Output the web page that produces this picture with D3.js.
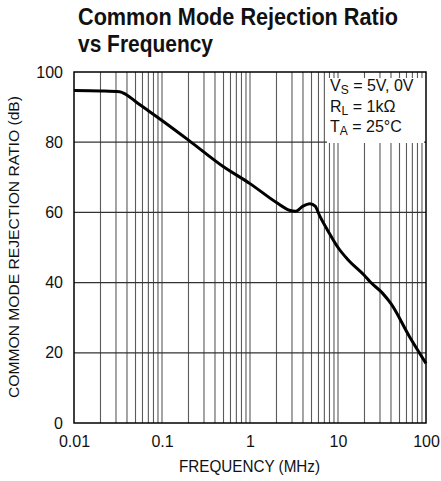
<!DOCTYPE html>
<html lang="en">
<head>
<meta charset="UTF-8">
<title>CMRR vs Frequency</title>
<script src="https://cdn.jsdelivr.net/npm/d3@7"></script>
<style>
  body { margin: 0; background: #fff; }
  text { font-family: "Liberation Sans", Arial, sans-serif; fill: #111; }
</style>
</head>
<body>
<script>
// data (MHz, dB)
var freq = [0.01, 0.02, 0.033, 0.039, 0.05, 0.1, 0.2, 0.5, 1, 2, 2.8, 3.3, 4, 4.8, 5.5, 6.2, 8, 10, 13, 20, 23, 32, 40, 65, 100];
var cmrr = [94.7, 94.6, 94.4, 93.6, 91.6, 86.2, 80.6, 73.0, 68.2, 62.8, 60.6, 60.3, 61.8, 62.5, 61.8, 59, 54, 50, 46.5, 42, 40.3, 37, 34, 24.6, 17];
var xTicks = [0.01, 0.1, 1, 10, 100];
var xTickLabels = ["0.01", "0.1", "1", "10", "100"];
var yTicks = [0, 20, 40, 60, 80, 100];
var notes = [["V", "S", " = 5V, 0V"], ["R", "L", " = 1k\u03A9"], ["T", "A", " = 25\u00B0C"]];

var width = 441, height = 481;
var plot = {left: 74, right: 426, top: 72, bottom: 423};

var svg = d3.select("body").append("svg").attr("width", width).attr("height", height);

var x = d3.scaleLog().domain([0.01, 100]).range([plot.left, plot.right]);
var y = d3.scaleLinear().domain([0, 100]).range([plot.bottom, plot.top]);

// vertical grid: every 1..9 in each decade
var gridX = [];
for (var d = -2; d < 2; d++) {
  for (var k = 1; k <= 9; k++) gridX.push(k * Math.pow(10, d));
}
svg.append("g").selectAll("line").data(gridX.filter(function (v) { return v > 0.01; }))
  .enter().append("line")
  .attr("x1", function (v) { return x(v); }).attr("x2", function (v) { return x(v); })
  .attr("y1", plot.top).attr("y2", plot.bottom)
  .attr("stroke", "#5a5a5a").attr("stroke-width", 1.1);

svg.append("g").selectAll("line").data([20, 40, 60, 80])
  .enter().append("line")
  .attr("x1", plot.left).attr("x2", plot.right)
  .attr("y1", function (v) { return y(v); }).attr("y2", function (v) { return y(v); })
  .attr("stroke", "#333").attr("stroke-width", 1.2);

// legend box blanks out the grid
svg.append("rect").attr("x", 327).attr("y", 78).attr("width", 97).attr("height", 65).attr("fill", "#fff");

var line = d3.line()
  .x(function (d, i) { return x(freq[i]); })
  .y(function (d) { return y(d); })
  .curve(d3.curveMonotoneX);
svg.append("path").datum(cmrr)
  .attr("d", line)
  .attr("fill", "none").attr("stroke", "#000").attr("stroke-width", 3)
  .attr("stroke-linejoin", "round");

svg.append("rect")
  .attr("x", plot.left).attr("y", plot.top)
  .attr("width", plot.right - plot.left).attr("height", plot.bottom - plot.top)
  .attr("fill", "none").attr("stroke", "#000").attr("stroke-width", 1.5);

var xAxis = d3.axisBottom(x).tickValues(xTicks)
  .tickFormat(function (d, i) { return xTickLabels[i]; })
  .tickSize(0).tickPadding(13);
svg.append("g").attr("transform", "translate(0," + plot.bottom + ")").call(xAxis)
  .call(function (g) { g.select(".domain").remove(); })
  .selectAll("text").style("font-size", "16px").style("font-family", "Liberation Sans").attr("fill", "#111");

var yAxis = d3.axisLeft(y).tickValues(yTicks).tickSize(0).tickPadding(11);
svg.append("g").attr("transform", "translate(" + plot.left + ",0)").call(yAxis)
  .call(function (g) { g.select(".domain").remove(); })
  .selectAll("text").style("font-size", "16px").style("font-family", "Liberation Sans").attr("fill", "#111");

// titles (condensed face, squeezed to width)
svg.append("text").attr("x", 78).attr("y", 25)
  .style("font-size", "23px").style("font-weight", "bold")
  .attr("textLength", 320).attr("lengthAdjust", "spacingAndGlyphs")
  .text("Common Mode Rejection Ratio");
svg.append("text").attr("x", 78).attr("y", 52)
  .style("font-size", "23px").style("font-weight", "bold")
  .attr("textLength", 135).attr("lengthAdjust", "spacingAndGlyphs")
  .text("vs Frequency");

svg.append("text").attr("x", 179).attr("y", 472)
  .style("font-size", "16px")
  .attr("textLength", 141).attr("lengthAdjust", "spacingAndGlyphs")
  .text("FREQUENCY (MHz)");

svg.append("text").attr("transform", "translate(19,398) rotate(-90)")
  .style("font-size", "15px")
  .attr("textLength", 302).attr("lengthAdjust", "spacingAndGlyphs")
  .text("COMMON MODE REJECTION RATIO (dB)");

// conditions
notes.forEach(function (n, i) {
  var t = svg.append("text").attr("x", 330).attr("y", 91 + i * 20.5).style("font-size", "16px");
  t.append("tspan").text(n[0]);
  t.append("tspan").attr("dy", 3).style("font-size", "12px").text(n[1]);
  t.append("tspan").attr("dy", -3).text(n[2]);
});
</script>
</body>
</html>
